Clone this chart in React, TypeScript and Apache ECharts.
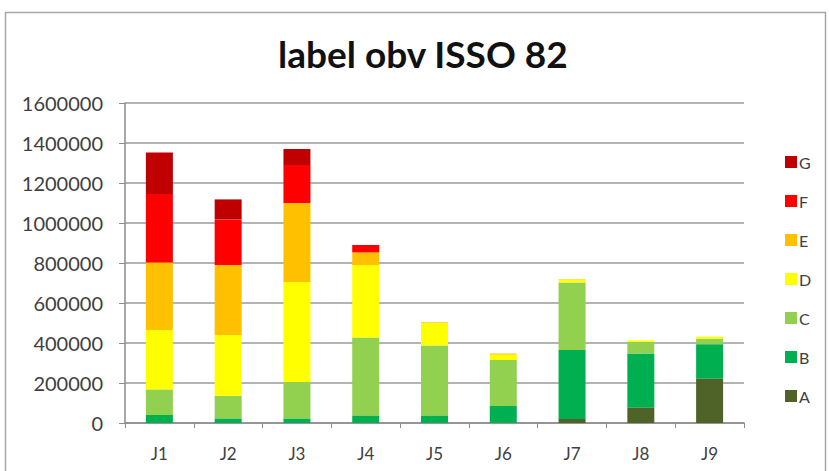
import React, { useEffect, useRef } from "react";
import * as echarts from "echarts";

const categories = ["J1", "J2", "J3", "J4", "J5", "J6", "J7", "J8", "J9"];
const seriesNames = ["A", "B", "C", "D", "E", "F", "G"];
const valuesA = [0, 0, 0, 0, 0, 0, 20000, 78000, 222000];
const valuesB = [40000, 23000, 23000, 38000, 38000, 85000, 345000, 270000, 172000];
const valuesC = [128000, 113000, 182000, 390000, 350000, 230000, 338000, 57000, 28000];
const valuesD = [297000, 304000, 500000, 362000, 113000, 28000, 15000, 8000, 10000];
const valuesE = [338000, 350000, 395000, 63000, 3000, 5000, 2000, 0, 0];
const valuesF = [342000, 228000, 190000, 37000, 0, 0, 0, 0, 0];
const valuesG = [208000, 100000, 80000, 0, 0, 0, 0, 0, 0];
const colors = ["#4F6228", "#00B050", "#92D050", "#FFFF00", "#FFC000", "#FF0000", "#C00000"];

export default function App() {
  const ref = useRef<HTMLDivElement>(null);
  useEffect(() => {
    document.body.style.margin = "0";
    if (!ref.current) return;
    const chart = echarts.init(ref.current, undefined, { renderer: "svg" });
    const data = [valuesA, valuesB, valuesC, valuesD, valuesE, valuesF, valuesG];
    chart.setOption({
      animation: false,
      backgroundColor: "#ffffff",
      title: {
        text: "label obv ISSO 82",
        left: 273,
        top: 30,
        textStyle: { fontFamily: "Lato", fontWeight: "bold", fontSize: 37, color: "#111" },
      },
      graphic: [
        {
          type: "rect",
          shape: { x: 5.5, y: 12.5, width: 820, height: 470 },
          style: { fill: "none", stroke: "#a6a6a6", lineWidth: 1.5 },
          silent: true,
        },
      ],
      legend: {
        orient: "vertical",
        left: 780,
        top: 149,
        itemWidth: 12,
        itemHeight: 12,
        itemGap: 23,
        icon: "rect",
        data: ["G", "F", "E", "D", "C", "B", "A"],
        textStyle: { fontFamily: "Lato", fontSize: 16, color: "#404040", padding: [0, 0, 0, -3] },
      },
      grid: { left: 125, right: 85, top: 103, bottom: 48 },
      xAxis: {
        type: "category",
        data: categories,
        axisLine: { lineStyle: { color: "#8c8c8c", width: 1.5 } },
        axisTick: { show: true, length: 5, lineStyle: { color: "#8c8c8c" } },
        axisLabel: { fontFamily: "Lato", fontSize: 17, color: "#404040", margin: 22 },
      },
      yAxis: {
        type: "value",
        min: 0,
        max: 1600000,
        interval: 200000,
        axisLine: { show: true, lineStyle: { color: "#8c8c8c", width: 1.5 } },
        axisTick: { show: true, length: 6, lineStyle: { color: "#8c8c8c" } },
        splitLine: { lineStyle: { color: "#9a9a9a", width: 1.5 } },
        axisLabel: {
          fontFamily: "Lato",
          fontSize: 20,
          color: "#404040",
          margin: 22,
          formatter: (v: number) => String(v),
        },
      },
      series: seriesNames.map((name, i) => ({
        name,
        type: "bar",
        stack: "total",
        data: data[i],
        barWidth: 27,
        itemStyle: { color: colors[i] },
      })),
    });
    return () => chart.dispose();
  }, []);
  return <div ref={ref} style={{ width: 829, height: 471 }} />;
}
